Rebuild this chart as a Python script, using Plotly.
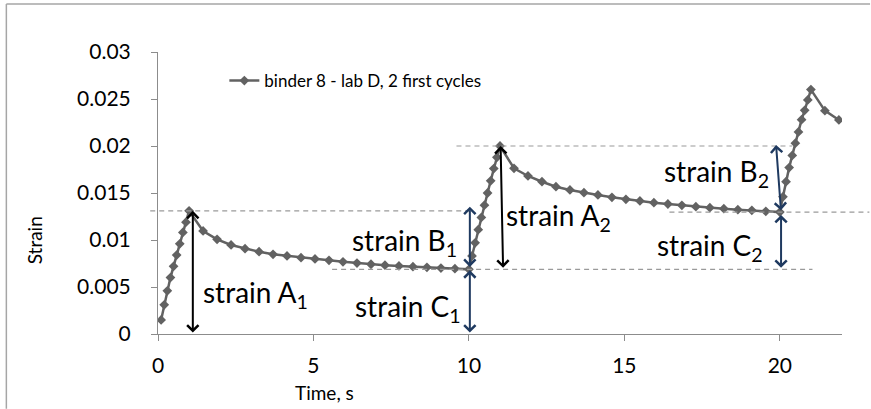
import plotly.graph_objects as go

# ---- measured creep/recovery record: time (s) and strain, per segment ----
t_load1 = [0.1, 0.2, 0.3, 0.4, 0.5, 0.6, 0.7, 0.8, 0.9, 1.0]
e_load1 = [0.0015, 0.0031, 0.0046, 0.0060, 0.0072, 0.0084, 0.0096, 0.0108, 0.0119, 0.0131]

t_rec1 = [1.45, 1.9, 2.35, 2.8, 3.25, 3.7, 4.15, 4.6, 5.05, 5.5,
          5.95, 6.4, 6.85, 7.3, 7.75, 8.2, 8.65, 9.1, 9.55, 10.0]
e_rec1 = [0.01096, 0.01007, 0.00947, 0.00908, 0.00876, 0.00848, 0.00830, 0.00812, 0.00798, 0.00784,
          0.00768, 0.00754, 0.00742, 0.00732, 0.00724, 0.00716, 0.00709, 0.00702, 0.00695, 0.00688]

t_load2 = [10.1, 10.2, 10.3, 10.4, 10.5, 10.6, 10.7, 10.8, 10.9, 11.0]
e_load2 = [0.0083, 0.0097, 0.0111, 0.0124, 0.0137, 0.0150, 0.0163, 0.0176, 0.0188, 0.0200]

t_rec2 = [11.45, 11.9, 12.35, 12.8, 13.25, 13.7, 14.15, 14.6, 15.05, 15.5,
          15.95, 16.4, 16.85, 17.3, 17.75, 18.2, 18.65, 19.1, 19.55, 20.0]
e_rec2 = [0.01763, 0.01681, 0.01620, 0.01567, 0.01532, 0.01503, 0.01479, 0.01454, 0.01433, 0.01415,
          0.01397, 0.01383, 0.01369, 0.01354, 0.01344, 0.01333, 0.01322, 0.01316, 0.01305, 0.01297]

t_load3 = [20.1, 20.2, 20.3, 20.4, 20.5, 20.6, 20.7, 20.8, 20.9, 21.0]
e_load3 = [0.0146, 0.0162, 0.0177, 0.0190, 0.0203, 0.0215, 0.0228, 0.0238, 0.0249, 0.0260]

t_rec3 = [21.45, 21.9]
e_rec3 = [0.02376, 0.02277]

series_name = "binder 8 - lab D, 2 first cycles"

x_ticks = [0, 5, 10, 15, 20]
y_ticks = [0, 0.005, 0.01, 0.015, 0.02, 0.025, 0.03]
y_tick_text = ["0", "0.005", "0.01", "0.015", "0.02", "0.025", "0.03"]

X_RANGE = [0, 22]
Y_RANGE = [0, 0.03]

time_s = t_load1 + t_rec1 + t_load2 + t_rec2 + t_load3 + t_rec3
strain = e_load1 + e_rec1 + e_load2 + e_rec2 + e_load3 + e_rec3

# characteristic levels of the first two cycles
peak1 = e_load1[-1]
end1 = e_rec1[-1]
peak2 = e_load2[-1]
end2 = e_rec2[-1]

FONT = "Lato"
GREY = "#626262"
NAVY = "#1f3a60"


def xp(t):
    """time value -> paper fraction of the x axis"""
    return (t - X_RANGE[0]) / (X_RANGE[1] - X_RANGE[0])


fig = go.Figure()
fig.add_trace(go.Scatter(
    x=time_s, y=strain, mode="lines+markers", name=series_name,
    line=dict(color=GREY, width=2.5),
    marker=dict(symbol="diamond", size=7.5, color=GREY),
))

# dashed reference levels (time span, strain level)
guides = [
    (-0.25, 10.05, peak1),
    (16.45, 22.88, end2),
    (5.6, 21.05, end1),
    (9.6, 20.4, peak2),
]
shapes = []
for t0, t1, lvl in guides:
    shapes.append(dict(type="line", xref="paper", yref="y",
                       x0=xp(t0), x1=xp(t1), y0=lvl, y1=lvl,
                       line=dict(color="#9a9a9a", width=1.2, dash="5px,4px")))

# outer chart frame (left and top edges fall inside the canvas)
shapes.append(dict(type="line", xref="paper", yref="paper",
                   x0=-0.2217, x1=-0.2217, y0=-0.265, y1=1.1702,
                   line=dict(color="#a6a6a6", width=1.5), layer="below"))
shapes.append(dict(type="line", xref="paper", yref="paper",
                   x0=-0.2217, x1=1.041, y0=1.1702, y1=1.1702,
                   line=dict(color="#a6a6a6", width=1.5), layer="below"))

# double-headed strain arrows: (t_top, e_top, t_bottom, e_bottom, colour)
arrows = [
    (1.12, peak1, 1.12, 0.0, "black"),
    (11.02, peak2, 11.1, end1, "black"),
    (10.03, 0.01355, 10.03, 0.00698, NAVY),
    (10.03, 0.00678, 10.03, 0.0, NAVY),
    (19.88, 0.0201, 20.04, 0.01300, NAVY),
    (20.04, 0.01266, 20.04, 0.00688, NAVY),
]
annotations = []
for ta, ea, tb, eb, col in arrows:
    annotations.append(dict(
        x=ta, y=ea, ax=tb, ay=eb, xref="x", yref="y", axref="x", ayref="y",
        text="", showarrow=True, arrowside="end+start",
        arrowhead=4, startarrowhead=4, arrowsize=1.1, startarrowsize=1.1,
        arrowwidth=2, arrowcolor=col))

# strain component labels (centre position in data units)
labels = [
    ("strain A<sub>1</sub>", 3.14, 0.0043),
    ("strain B<sub>1</sub>", 7.94, 0.0098),
    ("strain C<sub>1</sub>", 8.04, 0.0028),
    ("strain A<sub>2</sub>", 12.89, 0.0125),
    ("strain B<sub>2</sub>", 17.95, 0.0171),
    ("strain C<sub>2</sub>", 17.74, 0.0093),
]
for txt, t, e in labels:
    annotations.append(dict(x=t, y=e, xref="x", yref="y", text=txt, showarrow=False,
                            xanchor="center", yanchor="middle",
                            font=dict(family=FONT, size=28, color="black")))

# axis titles
annotations.append(dict(x=-0.181, y=0.333, xref="paper", yref="paper", text="Strain",
                        textangle=-90, showarrow=False, xanchor="center", yanchor="middle",
                        font=dict(family=FONT, size=19, color="black")))
annotations.append(dict(x=0.243, y=-0.2057, xref="paper", yref="paper", text="Time, s",
                        showarrow=False, xanchor="center", yanchor="middle",
                        font=dict(family=FONT, size=19, color="black")))

axis_common = dict(showgrid=False, zeroline=False, showline=True, linecolor="#8c8c8c",
                   linewidth=1, ticks="outside", ticklen=6, tickcolor="#8c8c8c",
                   tickfont=dict(family=FONT, size=21, color="black"))

fig.update_layout(
    width=871, height=409,
    margin=dict(l=158, r=29, t=52, b=75, pad=0),
    paper_bgcolor="white", plot_bgcolor="white",
    font=dict(family=FONT, color="black"),
    xaxis=dict(range=X_RANGE, tickvals=x_ticks, ticklabelstandoff=7, **axis_common),
    yaxis=dict(range=Y_RANGE, tickvals=y_ticks, ticktext=y_tick_text,
               ticklabelstandoff=16, **axis_common),
    showlegend=True,
    legend=dict(x=0.097, y=0.897, xanchor="left", yanchor="middle",
                bgcolor="rgba(0,0,0,0)", font=dict(family=FONT, size=17, color="black")),
    shapes=shapes,
    annotations=annotations,
)

fig.write_html("out.html")
